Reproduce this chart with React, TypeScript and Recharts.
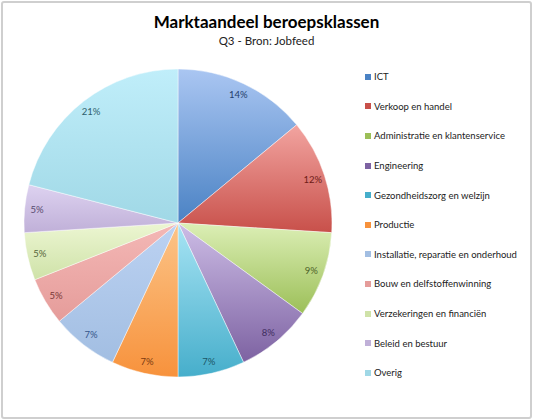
import { PieChart, Pie, Cell, Legend } from 'recharts';

const categories = [
  'ICT',
  'Verkoop en handel',
  'Administratie en klantenservice',
  'Engineering',
  'Gezondheidszorg en welzijn',
  'Productie',
  'Installatie, reparatie en onderhoud',
  'Bouw en delfstoffenwinning',
  'Verzekeringen en financiën',
  'Beleid en bestuur',
  'Overig',
];
const shares = [14, 12, 9, 8, 7, 7, 7, 5, 5, 5, 21];

const baseColors = ['#4a82c4', '#c8504a', '#9cbf58', '#7d62a2', '#46aecb', '#f7923c', '#a2bee2', '#e59c9a', '#cfe2a8', '#c0b0d8', '#a0d8e6'];
const topColors = ['#aac6f2', '#f2a4a0', '#dcefb6', '#cdbde6', '#a8e4f4', '#fcc488', '#bcd2f2', '#f4b8b6', '#ecf6d2', '#ddd2f0', '#c0eefa'];
const labelColors = ['#1f3d6b', '#6e1c17', '#4d6228', '#3f2d5f', '#1b5566', '#7a3a10', '#34558a', '#7a3838', '#56663a', '#574a6e', '#2f5f6c'];

const data = categories.map((name, i) => ({ name, value: shares[i] }));

const RADIAN = Math.PI / 180;

const renderLabel = (props: any) => {
  const { cx, cy, midAngle, outerRadius, index, value } = props;
  const r = outerRadius * 0.92;
  const x = cx + r * Math.cos(-midAngle * RADIAN);
  const y = cy + r * Math.sin(-midAngle * RADIAN);
  return (
    <text x={x} y={y} fill={labelColors[index]} fontSize={9.5} textAnchor="middle" dominantBaseline="central" fontFamily="Lato, 'Open Sans', sans-serif">
      {value}%
    </text>
  );
};

const renderLegend = () => (
  <div style={{ fontFamily: "Lato, 'Open Sans', sans-serif", fontSize: 9.5, color: '#222' }}>
    {categories.map((c, i) => (
      <div key={c} style={{ display: 'flex', alignItems: 'center', height: 29.6 }}>
        <span style={{ display: 'inline-block', width: 6, height: 6, background: baseColors[i], marginRight: 3 }} />
        {c}
      </div>
    ))}
  </div>
);

const App = () => {
  return (
    <div style={{ position: 'absolute', left: 0, top: 0, width: 533, height: 419, background: '#fff' }}>
      <div style={{ position: 'absolute', left: 1, top: 1, width: 527, height: 414, border: '2px solid #cfcfcf', borderRadius: 3 }} />
      <div style={{ position: 'absolute', left: 0, top: 11, width: 533, textAlign: 'center', fontFamily: "Lato, 'Open Sans', sans-serif", color: '#000' }}>
        <div style={{ fontSize: 17, fontWeight: 700, lineHeight: '22px' }}>Marktaandeel beroepsklassen</div>
        <div style={{ fontSize: 11.5, lineHeight: '15px', color: '#222' }}>Q3 - Bron: Jobfeed</div>
      </div>
      <div style={{ position: 'absolute', left: 0, top: 0 }}>
        <PieChart width={533} height={419} margin={{ top: 0, right: 0, bottom: 0, left: 0 }}>
          <defs>
            {baseColors.map((c, i) => (
              <linearGradient key={i} id={`g${i}`} x1="0" y1="0" x2="0" y2="1">
                <stop offset="0%" stopColor={topColors[i]} />
                <stop offset="100%" stopColor={c} />
              </linearGradient>
            ))}
          </defs>
          <Pie
            data={data}
            dataKey="value"
            nameKey="name"
            cx={178}
            cy={223}
            outerRadius={154}
            startAngle={90}
            endAngle={-270}
            label={renderLabel}
            labelLine={false}
            stroke="rgba(255,255,255,0.6)"
            strokeWidth={0.75}
            isAnimationActive={false}
          >
            {data.map((_, i) => (
              <Cell key={i} fill={`url(#g${i})`} />
            ))}
          </Pie>
          <Legend
            layout="vertical"
            content={renderLegend}
            wrapperStyle={{ position: 'absolute', left: 365, top: 62, width: 170 }}
          />
        </PieChart>
      </div>
    </div>
  );
};

export default App;
